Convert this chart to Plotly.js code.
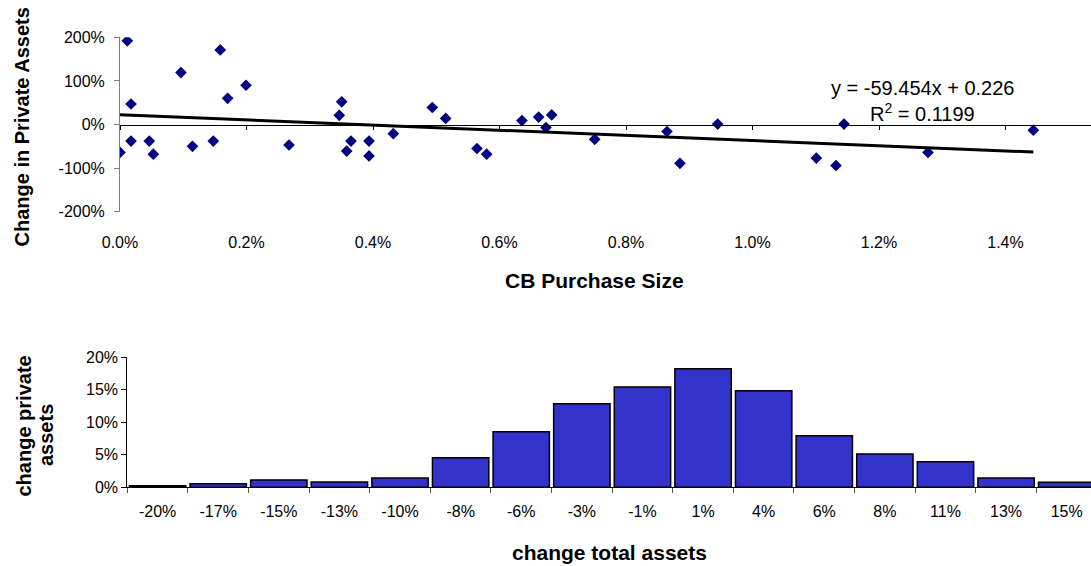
<!DOCTYPE html>
<html><head><meta charset="utf-8">
<script src="https://cdn.plot.ly/plotly-3.0.1.min.js"></script>
<style>html,body{margin:0;padding:0;overflow:hidden;background:#fff}#chart{width:1097px;height:566px}</style>
</head><body><div id="chart"></div>
<script>
// ---- Scatter data: CB purchase size vs change in private assets (fractions)
const purchaseSize = [0.0000,0.000115,0.000174,0.000174,0.000463,0.000527,0.000964,0.001146,0.001475,0.001585,
  0.001702,0.001992,0.002672,0.003467,0.003505,0.003652,0.003584,0.003937,0.003937,0.004321,
  0.004937,0.005149,0.005644,0.005797,0.006355,0.006619,0.006825,0.006735,0.007505,0.008648,
  0.008853,0.009449,0.011009,0.011320,0.011447,0.012775,0.014440];
const privateChange = [-0.64,1.92,0.47,-0.38,-0.38,-0.68,1.19,-0.50,-0.38,1.71,
  0.60,0.90,-0.47,0.21,0.52,-0.38,-0.61,-0.38,-0.72,-0.21,
  0.39,0.14,-0.55,-0.68,0.09,0.17,0.22,-0.07,-0.34,-0.16,
  -0.89,0.01,-0.77,-0.94,0.01,-0.64,-0.13];
const trendSlope = -59.454, trendIntercept = 0.226, trendR2 = 0.1199;
const scatterXTicks = [0,0.002,0.004,0.006,0.008,0.010,0.012,0.014];
const scatterXLabels = ['0.0%','0.2%','0.4%','0.6%','0.8%','1.0%','1.2%','1.4%'];
const scatterYTicks = [-2,-1,0,1,2];
const scatterYLabels = ['-200%','-100%','0%','100%','200%'];

// ---- Histogram data
const totalAssetBins = ['-20%','-17%','-15%','-13%','-10%','-8%','-6%','-3%','-1%','1%','4%','6%','8%','11%','13%','15%'];
const binShares = [0.0025,0.0055,0.0112,0.0082,0.0143,0.0455,0.0855,0.1286,0.1543,0.1825,0.1486,0.0794,0.0512,0.0394,0.0143,0.0077];
const histYTicks = [0,0.05,0.10,0.15,0.20];
const histYLabels = ['0%','5%','10%','15%','20%'];

const W = 1097, H = 566;
const px = v => v / W, py = v => 1 - v / H;
const FAM = 'Liberation Sans, Arial, sans-serif';
const font = {family:FAM, size:16, color:'#000'};
const bigFont = {family:FAM, size:20, color:'#000'};

const xMin = Math.min(...purchaseSize), xMax = Math.max(...purchaseSize);
const traces = [
  {type:'scatter', mode:'markers', x:purchaseSize, y:privateChange, xaxis:'x', yaxis:'y',
   marker:{symbol:'diamond', size:9, color:'#000080'}, hoverinfo:'x+y'},
  {type:'scatter', mode:'lines', x:[xMin,xMax], y:[trendSlope*xMin+trendIntercept, trendSlope*xMax+trendIntercept],
   xaxis:'x3', yaxis:'y', line:{color:'#000', width:3}},
  {type:'bar', x:totalAssetBins, y:binShares, xaxis:'x2', yaxis:'y2', width:0.93,
   marker:{color:'#3333CC', line:{color:'#000', width:1.5}}}
];

const xRangeMax = (W - 120) / 632.5 / 100;
const yDom = [py(211.7), py(37.3)];
const ann = (x, y, text, f, extra) => Object.assign({xref:'paper', yref:'paper', x:px(x), y:py(y), text:text,
  showarrow:false, font:f, xanchor:'center', yanchor:'middle'}, extra || {});
const layout = {
  width:W, height:H, margin:{l:0,r:0,t:0,b:0}, showlegend:false,
  paper_bgcolor:'#fff', plot_bgcolor:'rgba(0,0,0,0)', font:font,
  xaxis:{domain:[px(120),1], range:[0,xRangeMax], anchor:'free', position:py(231),
    showline:false, ticks:'', tickvals:scatterXTicks, ticktext:scatterXLabels,
    showgrid:false, zeroline:false, tickfont:font, fixedrange:true},
  xaxis3:{domain:[px(120),1], overlaying:'x', matches:'x', anchor:'free', position:(yDom[0]+yDom[1])/2,
    showline:true, linecolor:'#000', linewidth:1, ticks:'outside', ticklen:4, tickcolor:'#000',
    tickvals:scatterXTicks, showticklabels:false, showgrid:false, zeroline:false},
  yaxis:{domain:yDom, range:[-2,2], anchor:'x', showline:true, linecolor:'#808080', linewidth:1,
    ticks:'outside', ticklen:5, tickcolor:'#808080', tickvals:scatterYTicks, ticktext:scatterYLabels,
    ticklabelstandoff:6, showgrid:false, zeroline:false, tickfont:font},
  xaxis2:{domain:[px(127.3),1], anchor:'y2', type:'category', range:[-0.5,15.5],
    showline:true, linecolor:'#000', linewidth:1, ticks:'outside', tickson:'boundaries', ticklen:5,
    tickcolor:'#555', ticklabelstandoff:9, showgrid:false, zeroline:false, tickfont:font},
  yaxis2:{domain:[py(487.3), py(357.3)], range:[0,0.2], anchor:'x2', showline:true, linecolor:'#000', linewidth:1,
    ticks:'outside', ticklen:5, tickcolor:'#000', tickvals:histYTicks, ticktext:histYLabels,
    showgrid:false, zeroline:false, tickfont:font},
  annotations:[
    ann(922, 88, `y = ${trendSlope.toFixed(3)}x + ${trendIntercept.toFixed(3)}`, bigFont),
    ann(922, 113, `R<sup>2</sup> = ${trendR2}`, bigFont),
    ann(21, 127.5, '<b>Change in Private Assets</b>', bigFont, {textangle:-90}),
    ann(594, 280, '<b>CB Purchase Size</b>', {family:FAM, size:21, color:'#000'}),
    ann(23, 426.5, '<b>change private</b>', bigFont, {textangle:-90}),
    ann(46, 435, '<b>assets</b>', bigFont, {textangle:-90}),
    ann(610, 552, '<b>change total assets</b>', {family:FAM, size:21, color:'#000'})
  ]
};
Plotly.newPlot('chart', traces, layout, {displayModeBar:false, staticPlot:true});
</script></body></html>
